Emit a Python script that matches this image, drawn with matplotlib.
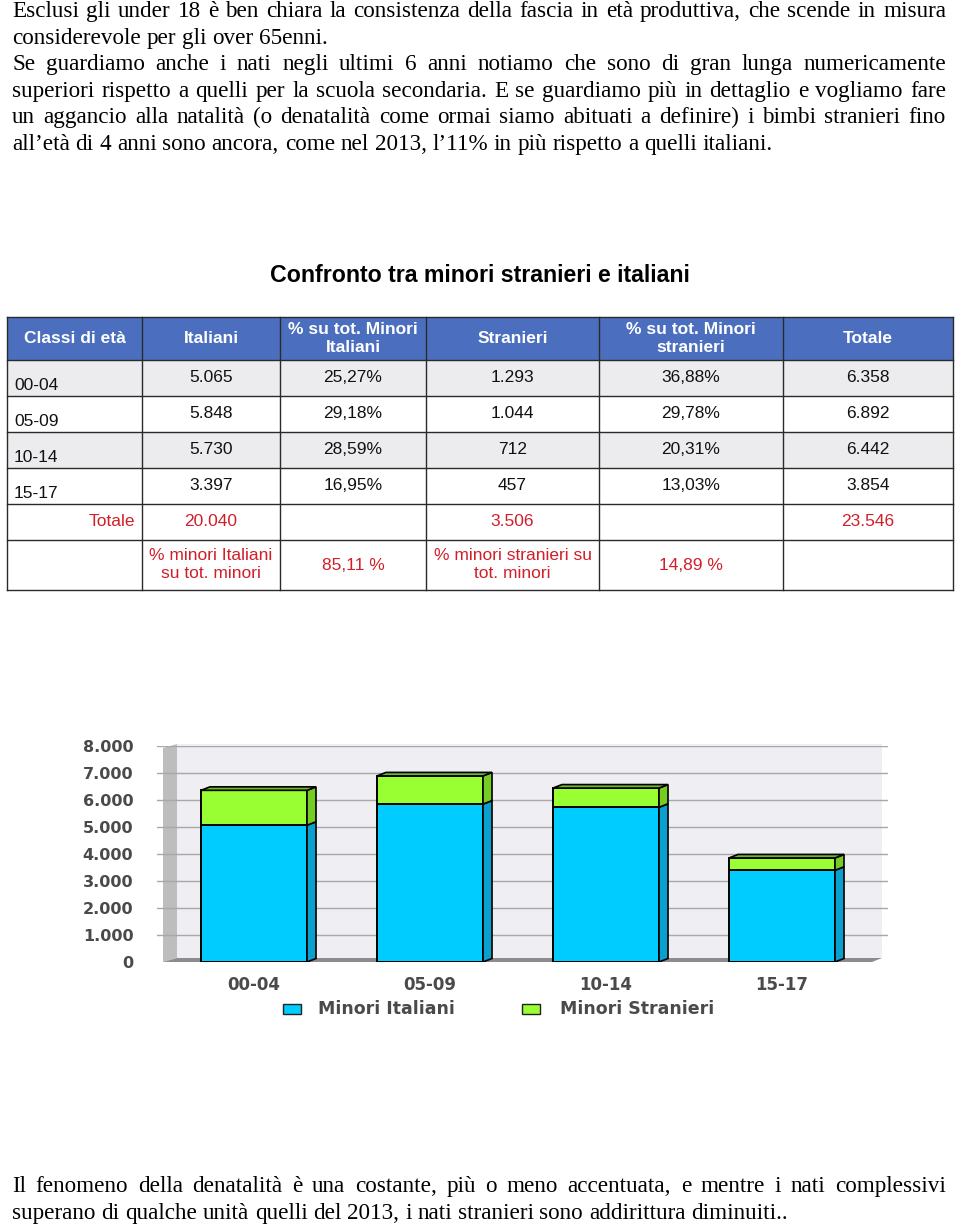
import matplotlib
matplotlib.use("Agg")
import matplotlib.pyplot as plt
from matplotlib.patches import Rectangle, Polygon
from matplotlib.font_manager import FontProperties

# ---------------- data ----------------
categories = ['00-04', '05-09', '10-14', '15-17']
italiani = [5065, 5848, 5730, 3397]
stranieri = [1293, 1044, 712, 457]
pct_italiani = ['25,27%', '29,18%', '28,59%', '16,95%']
pct_stranieri = ['36,88%', '29,78%', '20,31%', '13,03%']
totale = ['6.358', '6.892', '6.442', '3.854']
italiani_lbl = ['5.065', '5.848', '5.730', '3.397']
stranieri_lbl = ['1.293', '1.044', '712', '457']
tot_italiani = '20.040'
tot_stranieri = '3.506'
tot_totale = '23.546'
quota_italiani = '85,11 %'
quota_stranieri = '14,89 %'
yticks = [0, 1000, 2000, 3000, 4000, 5000, 6000, 7000, 8000]
ytick_labels = ['0', '1.000', '2.000', '3.000', '4.000', '5.000', '6.000', '7.000', '8.000']
series_names = ['Minori Italiani', 'Minori Stranieri']

header = ['Classi di età', 'Italiani', '% su tot. Minori\nItaliani', 'Stranieri',
          '% su tot. Minori\nstranieri', 'Totale']

para_top = [
    ("Esclusi gli under 18 è ben chiara la consistenza della fascia in età produttiva, che scende in misura", True),
    ("considerevole per gli over 65enni.", False),
    ("Se guardiamo anche i nati negli ultimi 6 anni notiamo che sono di gran lunga numericamente", True),
    ("superiori rispetto a quelli  per la scuola secondaria. E se guardiamo più in dettaglio e vogliamo fare", True),
    ("un aggancio alla natalità (o denatalità come ormai siamo abituati a definire) i bimbi stranieri fino", True),
    ("all’età di 4 anni sono ancora, come nel 2013,  l’11% in più rispetto a quelli italiani.", False),
]
para_bottom = [
    ("Il fenomeno della denatalità è una costante, più o meno accentuata, e mentre i nati complessivi", True),
    ("superano di qualche unità quelli del 2013, i nati stranieri sono addirittura diminuiti..", False),
]

W, H = 960, 1227
fig = plt.figure(figsize=(W / 100, H / 100), dpi=100)
fig.patch.set_facecolor('white')

# overlay axes in pixel coordinates (top-left origin)
ov = fig.add_axes([0, 0, 1, 1])
ov.set_xlim(0, W)
ov.set_ylim(H, 0)
ov.axis('off')

renderer = fig.canvas.get_renderer()
serif = FontProperties(family='Liberation Serif', size=16.7)


def draw_line(text, y, justify, x0=12, x1=946):
    words = text.split()
    widths = [renderer.get_text_width_height_descent(w, serif, ismath=False)[0] for w in words]
    space = renderer.get_text_width_height_descent('a a', serif, ismath=False)[0] - \
        renderer.get_text_width_height_descent('aa', serif, ismath=False)[0]
    if justify and len(words) > 1:
        gap = (x1 - x0 - sum(widths)) / (len(words) - 1)
    else:
        gap = space
    x = x0
    for w, wd in zip(words, widths):
        ov.text(x, y, w, fontproperties=serif, va='baseline', ha='left', color='black')
        x += wd + gap


for k, (t, j) in enumerate(para_top):
    draw_line(t, 17 + 26.6 * k, j)
for k, (t, j) in enumerate(para_bottom):
    draw_line(t, 1192 + 26.6 * k, j)

# ---------------- title ----------------
ov.text(480, 276, 'Confronto tra minori stranieri e italiani', ha='center', va='center',
        fontfamily='Liberation Sans', fontweight='bold', fontsize=16.7, color='black')

# ---------------- table ----------------
col_x = [7, 142, 280, 426, 599, 783, 953]
row_y = [317, 360, 396, 432, 468, 504, 540, 590]
hdr_blue = '#4B6FBE'
red = '#D11F2A'
sans = 'Liberation Sans'
fs = 12.5

ov.add_patch(Rectangle((col_x[0], row_y[0]), col_x[-1] - col_x[0], row_y[1] - row_y[0],
                       facecolor=hdr_blue, edgecolor='none'))
for r in (0, 2):
    ov.add_patch(Rectangle((col_x[0], row_y[1 + r]), col_x[-1] - col_x[0], row_y[2 + r] - row_y[1 + r],
                           facecolor='#ECECEE', edgecolor='none'))
for yy in row_y:
    ov.plot([col_x[0], col_x[-1]], [yy, yy], color='#2a2a2a', lw=1.0)
for xx in col_x:
    ov.plot([xx, xx], [row_y[0], row_y[-1]], color='#2a2a2a', lw=1.0)

cx = [(col_x[i] + col_x[i + 1]) / 2 for i in range(6)]
hy = (row_y[0] + row_y[1]) / 2
for i, h in enumerate(header):
    ov.text(cx[i], hy, h, ha='center', va='center', fontfamily=sans, fontweight='bold',
            fontsize=fs, color='white', linespacing=1.25)

for r in range(4):
    yc = (row_y[r + 1] + row_y[r + 2]) / 2
    ov.text(14, yc + 8, categories[r], ha='left', va='center', fontfamily=sans, fontsize=fs, color='#111')
    vals = [italiani_lbl[r], pct_italiani[r], stranieri_lbl[r], pct_stranieri[r], totale[r]]
    for c, v in enumerate(vals):
        ov.text(cx[c + 1], yc, v, ha='center', va='center', fontfamily=sans, fontsize=fs, color='#111')

yc = (row_y[5] + row_y[6]) / 2
ov.text(135, yc, 'Totale', ha='right', va='center', fontfamily=sans, fontsize=fs, color=red)
ov.text(cx[1], yc, tot_italiani, ha='center', va='center', fontfamily=sans, fontsize=fs, color=red)
ov.text(cx[3], yc, tot_stranieri, ha='center', va='center', fontfamily=sans, fontsize=fs, color=red)
ov.text(cx[5], yc, tot_totale, ha='center', va='center', fontfamily=sans, fontsize=fs, color=red)

yc = (row_y[6] + row_y[7]) / 2
ov.text(cx[1], yc, '% minori Italiani\nsu tot. minori', ha='center', va='center', fontfamily=sans,
        fontsize=fs, color=red, linespacing=1.25)
ov.text(cx[2], yc, quota_italiani, ha='center', va='center', fontfamily=sans, fontsize=fs, color=red)
ov.text(cx[3], yc, '% minori stranieri su\ntot. minori', ha='center', va='center', fontfamily=sans,
        fontsize=fs, color=red, linespacing=1.25)
ov.text(cx[4], yc, quota_stranieri, ha='center', va='center', fontfamily=sans, fontsize=fs, color=red)

# ---------------- chart ----------------
px_left, px_right, px_bottom, px_top = 157, 888, 962, 746
ax = fig.add_axes([px_left / W, 1 - px_bottom / H, (px_right - px_left) / W, (px_bottom - px_top) / H])
step = 176.0
c0 = 254.0
def xd(px):
    return (px - c0) / step
ax.set_xlim(xd(px_left), xd(px_right))
ax.set_ylim(0, 8000)
ax.patch.set_alpha(0)
for s in ax.spines.values():
    s.set_visible(False)
unit = 8000 / (px_bottom - px_top)  # value units per pixel
dx = 9 / step
dy = 3.5 * unit

# walls
ax.add_patch(Rectangle((xd(177), 4 * unit), xd(882) - xd(177), 8000 + 2 * unit - 4 * unit,
                       facecolor='#EEEEF3', edgecolor='none', zorder=0, clip_on=False))
ax.add_patch(Polygon([(xd(163), 0), (xd(177), 4 * unit), (xd(177), 8000 + 2 * unit), (xd(163), 8000 - 2 * unit)],
                     closed=True, facecolor='#BDBDBD', edgecolor='none', zorder=0, clip_on=False))
ax.add_patch(Polygon([(xd(163), 0), (xd(177), 4 * unit), (xd(882), 4 * unit), (xd(872), 0)],
                     closed=True, facecolor='#8C8C8C', edgecolor='none', zorder=1, clip_on=False))
ax.set_yticks(yticks)
ax.set_yticklabels(ytick_labels)
ax.tick_params(axis='y', length=0, pad=17, labelsize=11.5, labelcolor='#4a4a4a')
for t in ax.get_yticklabels():
    t.set_fontfamily('DejaVu Sans')
    t.set_fontweight('bold')
ax.set_xticks(range(len(categories)))
ax.set_xticklabels(categories)
ax.tick_params(axis='x', length=0, pad=10, labelsize=12, labelcolor='#4a4a4a')
for t in ax.get_xticklabels():
    t.set_fontfamily('DejaVu Sans')
    t.set_fontweight('bold')
for v in yticks[1:]:
    ax.axhline(v, color='#A8A8A8', lw=1.0, zorder=1)

bw = 106 / step
blue, blue_side = '#00CCFF', '#0A9FCC'
green, green_side, green_top = '#99FF33', '#77CC22', '#6FB82A'
for i in range(len(categories)):
    a, b = italiani[i], stranieri[i]
    l, r = i - bw / 2, i + bw / 2
    ax.add_patch(Rectangle((l, 0), bw, a, facecolor=blue, edgecolor='black', lw=1.4, zorder=3))
    ax.add_patch(Rectangle((l, a), bw, b, facecolor=green, edgecolor='black', lw=1.4, zorder=3))
    ax.add_patch(Polygon([(r, 0), (r + dx, dy), (r + dx, a + dy), (r, a)], closed=True,
                         facecolor=blue_side, edgecolor='black', lw=1.2, zorder=3))
    ax.add_patch(Polygon([(r, a), (r + dx, a + dy), (r + dx, a + b + dy), (r, a + b)], closed=True,
                         facecolor=green_side, edgecolor='black', lw=1.2, zorder=3))
    ax.add_patch(Polygon([(l, a + b), (l + dx, a + b + dy), (r + dx, a + b + dy), (r, a + b)], closed=True,
                         facecolor=green_top, edgecolor='black', lw=1.2, zorder=3))

# legend
leg_y = 1009
for (x0, col, name, tx) in [(283, blue, series_names[0], 318), (522, green, series_names[1], 560)]:
    ov.add_patch(Rectangle((x0, leg_y - 5), 18, 10, facecolor=col, edgecolor='#222', lw=1.0))
    ov.text(tx, leg_y, name, ha='left', va='center', fontfamily='DejaVu Sans', fontweight='bold',
            fontsize=12.5, color='#4a4a4a')

fig.savefig('out.png', dpi=100, facecolor='white')
